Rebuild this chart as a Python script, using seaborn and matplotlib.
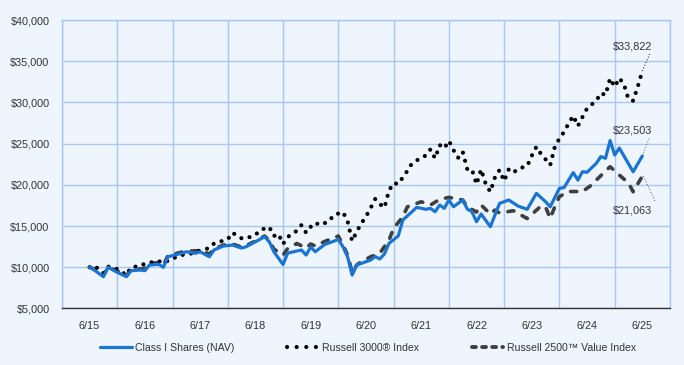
import matplotlib
matplotlib.use("Agg")
import matplotlib.pyplot as plt
import numpy as np
import pandas as pd
import seaborn as sns
from matplotlib.lines import Line2D
from matplotlib.ticker import FuncFormatter, MultipleLocator, FixedLocator

# ---------------- data (months since 6/2015, growth of $10,000) ----------------
class_i_months = [0, 1, 3, 4, 6, 8, 9, 11, 12, 13, 15, 16, 17, 20, 21, 23, 24, 26, 27, 29,
                  31, 33, 34, 36, 38, 39, 40, 42, 43, 46, 47, 48, 49, 51, 54, 55, 56, 57, 58, 60,
                  61, 62, 63, 64, 65, 67, 68, 70, 71, 73, 74, 75, 76, 77, 78, 79, 81, 82, 83, 84,
                  85, 87, 88, 89, 91, 93, 95, 97, 99, 100, 102, 103, 105, 106, 107, 108, 110, 111,
                  112, 113, 114, 115, 118, 120]
class_i_values = [10000, 9660, 8850, 9990, 9380, 8850, 9580, 9660, 9580, 10270, 10350, 9990, 11270,
                  11690, 11880, 11690, 11880, 11270, 12090, 12570, 12690, 12330, 12490, 13090, 13700,
                  13090, 11880, 10330, 11720, 12090, 11480, 12450, 11880, 12750, 13360, 12490, 11270,
                  9050, 10270, 10670, 10870, 11300, 11000, 11600, 12900, 13790, 15730, 16740, 17270,
                  17030, 17150, 16740, 17550, 17150, 18160, 17340, 18160, 17060, 16740, 15520, 16460,
                  14920, 16340, 17750, 18160, 17430, 17030, 18970, 17950, 17340, 19580, 19670, 21490,
                  20580, 21590, 21530, 22610, 23430, 23220, 25380, 23620, 24470, 21590, 23503]

r3000_months = [0, 1, 3, 4, 6, 8, 9, 11, 12, 15, 16, 18, 20, 22, 24, 26, 27, 30, 31, 33, 34, 36,
                37, 39, 40, 41, 42, 43, 45, 46, 47, 48, 49, 50, 52, 53, 55, 56, 57, 58, 59, 60, 61,
                62, 63, 64, 65, 66, 67, 68, 69, 70, 72, 73, 74, 75, 76, 77, 78, 79, 80, 81, 82, 83,
                84, 85, 86, 87, 88, 89, 90, 91, 92, 93, 95, 96, 97, 98, 99, 100, 101, 102, 103, 104,
                105, 106, 107, 108, 110, 111, 112, 113, 114, 115, 116, 117, 118, 119, 120]
r3000_values = [10000, 10200, 9300, 10080, 9780, 9050, 9990, 10150, 10450, 10750, 10510, 11060,
                11480, 11660, 12030, 12330, 12880, 13390, 14190, 13510, 13510, 13910, 14510, 14880,
                13790, 14030, 12820, 13670, 14430, 15120, 14190, 14910, 15400, 15120, 15580, 16340,
                16700, 15610, 13180, 14330, 15330, 16150, 17180, 18280, 17670, 17220, 19310, 20220,
                20100, 20910, 21710, 22610, 23300, 23560, 24310, 23220, 24830, 24430, 25350, 24220,
                23290, 24020, 21880, 21880, 20060, 21880, 20100, 19160, 20910, 21800, 20460, 21880,
                21470, 21950, 22280, 23530, 24620, 23740, 23090, 22400, 24620, 25640, 26410, 27460,
                28390, 27140, 28230, 29280, 30210, 31140, 30900, 32920, 31900, 32960, 32200, 30410,
                30210, 31900, 33822]

r2500v_months = [0, 1, 3, 4, 6, 8, 9, 11, 12, 13, 15, 16, 17, 20, 22, 24, 26, 27, 29, 31, 33, 34,
                 36, 38, 39, 40, 42, 43, 45, 47, 48, 49, 51, 54, 55, 56, 57, 58, 59, 61, 62, 63, 65,
                 66, 68, 69, 72, 74, 76, 78, 81, 82, 84, 85, 87, 88, 89, 92, 95, 98, 99, 100, 101,
                 102, 104, 107, 109, 110, 113, 115, 117, 118, 120]
r2500v_values = [10000, 9780, 8990, 10020, 9540, 8930, 9720, 9780, 9900, 10450, 10570, 10210, 11420,
                 11840, 11970, 12030, 11600, 12210, 12690, 12820, 12450, 12630, 13180, 13790, 13240,
                 12210, 11480, 12270, 12880, 12330, 12820, 12570, 13120, 13790, 12690, 11480, 9400,
                 10270, 10670, 11270, 11480, 11690, 13300, 14720, 16130, 17340, 17950, 17550, 18240,
                 18480, 18160, 17340, 16700, 17550, 16460, 16940, 16580, 16860, 15910, 17430, 17310,
                 15930, 17340, 18580, 19190, 19190, 19980, 20580, 22200, 21190, 20220, 19160, 21063]

tick_labels = ["6/15", "6/16", "6/17", "6/18", "6/19", "6/20", "6/21", "6/22", "6/23", "6/24", "6/25"]
series_names = ["Class I Shares (NAV)", "Russell 3000\u00ae Index", "Russell 2500\u2122 Value Index"]
end_labels = ["$23,503", "$33,822", "$21,063"]

# ---------------- styling ----------------
BG = "#EEF5FD"
GRID = "#A9C7F0"
BLUE = "#1A75D2"
DARK = "#3F3F3F"
TXT = "#333333"

sns.set_theme(style="white")
plt.rcParams["font.family"] = ["Liberation Sans", "DejaVu Sans"]

fig, ax = plt.subplots(figsize=(6.84, 3.65), dpi=100)
fig.patch.set_facecolor(BG)
ax.set_facecolor(BG)
fig.subplots_adjust(left=0.0906, right=0.9795, bottom=0.155, top=0.945)

df_ci = pd.DataFrame({"year": np.array(class_i_months) / 12.0, "value": class_i_values})
df_r3 = pd.DataFrame({"year": np.array(r3000_months) / 12.0, "value": r3000_values})
df_r25 = pd.DataFrame({"year": np.array(r2500v_months) / 12.0, "value": r2500v_values})

# Russell 2500 Value (dashed)
sns.lineplot(data=df_r25, x="year", y="value", ax=ax, color=DARK, lw=2.6, zorder=3, legend=False)
l25 = ax.lines[-1]
l25.set_dashes((1.7, 2.6))
l25.set_dash_capstyle("round")

# Russell 3000 (dotted)
sns.lineplot(data=df_r3, x="year", y="value", ax=ax, color="black", lw=3.0, zorder=4, legend=False)
l3 = ax.lines[-1]
l3.set_dashes((0.01, 2.0))
l3.set_dash_capstyle("round")

# Class I (solid)
sns.lineplot(data=df_ci, x="year", y="value", ax=ax, color=BLUE, lw=2.3, zorder=5, legend=False)
ax.lines[-1].set_solid_joinstyle("round")

# axes
ax.set_xlim(-0.5, 10.5)
ax.set_ylim(5000, 40000)
ax.xaxis.set_major_locator(FixedLocator(list(range(len(tick_labels)))))
ax.set_xticklabels(tick_labels)
ax.xaxis.set_minor_locator(FixedLocator([i - 0.5 for i in range(len(tick_labels) + 1)]))
ax.yaxis.set_major_locator(MultipleLocator(5000))
ax.yaxis.set_major_formatter(FuncFormatter(lambda v, p: f"${v:,.0f}"))
ax.tick_params(axis="both", which="both", length=0, labelsize=7.8, colors=TXT)
ax.tick_params(axis="x", pad=9)
ax.tick_params(axis="y", pad=9)
ax.set_xlabel("")
ax.set_ylabel("")
ax.grid(False)
ax.grid(True, axis="y", which="major", color=GRID, lw=1.0)
ax.grid(True, axis="x", which="minor", color=GRID, lw=1.0)
for s in ["top", "right", "left"]:
    ax.spines[s].set_color(GRID)
    ax.spines[s].set_linewidth(1.0)
ax.spines["bottom"].set_color("#333333")
ax.spines["bottom"].set_linewidth(1.0)

# end labels with dotted leaders
last_ci = class_i_values[-1]
last_r3 = r3000_values[-1]
last_r25 = r2500v_values[-1]
ax.plot([10.0, 10.13], [last_ci, 25800], color=BLUE, lw=0.7, ls=(0, (1, 2)), zorder=6)
ax.plot([10.0, 10.14], [last_r3, 35990], color="black", lw=0.7, ls=(0, (1, 2)), zorder=6)
ax.plot([10.02, 10.23], [last_r25, 18030], color="#555555", lw=0.7, ls=(0, (1, 2)), zorder=6)
ax.text(9.82, 26650, end_labels[0], ha="center", va="center", fontsize=7.8, color=TXT)
ax.text(9.82, 36850, end_labels[1], ha="center", va="center", fontsize=7.8, color=TXT)
ax.text(9.82, 16940, end_labels[2], ha="center", va="center", fontsize=7.8, color=TXT)

# legend
h1 = Line2D([], [], color=BLUE, lw=2.3)
h2 = Line2D([], [], color="black", lw=3.0, dashes=(0.01, 2.3), dash_capstyle="round")
h3 = Line2D([], [], color=DARK, lw=2.8, dashes=(1.0, 1.6), dash_capstyle="round")
leg = fig.legend([h1, h2, h3], series_names, loc="center", bbox_to_anchor=(0.538, 0.047),
                 ncol=3, frameon=False, fontsize=7.6, handlelength=3.0, handletextpad=0.3,
                 columnspacing=5.0)
for t in leg.get_texts():
    t.set_color(TXT)

fig.savefig("out.png", dpi=100, facecolor=BG)
